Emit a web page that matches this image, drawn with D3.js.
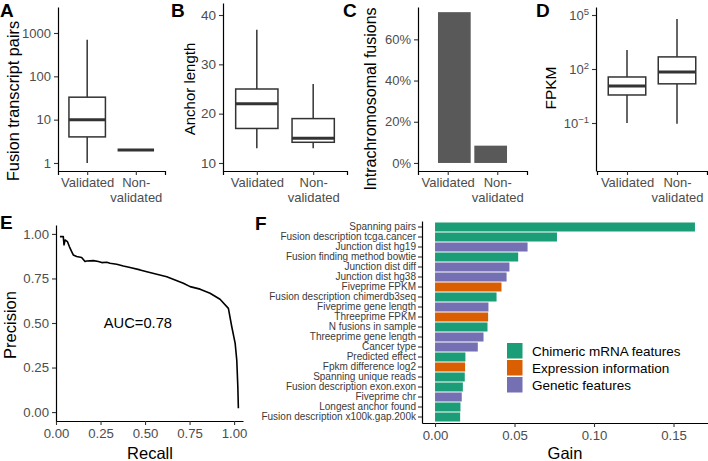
<!DOCTYPE html>
<html><head><meta charset="utf-8">
<script src="https://cdn.jsdelivr.net/npm/d3@7"></script>
<style>
body{margin:0;background:#fff}
svg{display:block;font-family:"Liberation Sans",Arial,Helvetica,sans-serif}
</style></head><body>
<svg id="c" width="708" height="461"></svg>
<script>
// ---------- data ----------
const groups = ["Validated", "Non-validated"];
// A: fusion transcript pairs (box stats)
const aLower = [1, 2], aQ1 = [4, 2], aMedian = [10, 2], aQ3 = [33, 2], aUpper = [700, 2];
const aTicks = [1, 10, 100, 1000];
// B: anchor length
const bLower = [13, 13], bQ1 = [17, 14.2], bMedian = [22, 15], bQ3 = [25, 19], bUpper = [37, 26];
const bTicks = [10, 20, 30, 40];
// C: intrachromosomal fusions (%)
const cPercent = [73.2, 8.4];
const cTicks = [0, 20, 40, 60];
// D: FPKM
const dLower = [0.1, 0.09], dQ1 = [3.6, 15], dMedian = [11.5, 68], dQ3 = [36, 470], dUpper = [1150, 60000];
const dTickExp = [-1, 2, 5];
// E: precision-recall curve
const recall = [0.022,0.041,0.043,0.045,0.051,0.064,0.075,0.088,0.097,0.116,0.144,0.163,0.172,0.21,0.238,0.257,0.285,0.303,0.341,0.378,0.416,0.472,0.51,0.566,0.622,0.715,0.753,0.809,0.865,0.921,0.968,0.987,1.006,1.015,1.021,1.024];
const precision = [0.985,0.985,0.96,0.938,0.966,0.957,0.929,0.901,0.882,0.873,0.868,0.845,0.848,0.85,0.845,0.839,0.841,0.835,0.83,0.82,0.811,0.798,0.788,0.774,0.76,0.723,0.704,0.69,0.667,0.633,0.582,0.479,0.386,0.292,0.142,0.021];
const eTicks = [0, 0.25, 0.5, 0.75, 1];
const aucLabel = "AUC=0.78";
// F: feature importance
const features = ["Spanning pairs","Fusion description tcga.cancer","Junction dist hg19","Fusion finding method bowtie","Junction dist diff","Junction dist hg38","Fiveprime FPKM","Fusion description chimerdb3seq","Fiveprime gene length","Threeprime FPKM","N fusions in sample","Threeprime gene length","Cancer type","Predicted effect","Fpkm difference log2","Spanning unique reads","Fusion description exon.exon","Fiveprime chr","Longest anchor found","Fusion description x100k.gap.200k"];
const gain = [0.1635,0.0767,0.0582,0.0523,0.0468,0.0450,0.0418,0.0387,0.0336,0.0334,0.0330,0.0305,0.0269,0.0191,0.0189,0.0187,0.0175,0.0168,0.0160,0.0158];
const featureType = [0,0,2,0,2,2,1,0,2,1,0,2,2,0,1,0,0,2,0,0];
const typeNames = ["Chimeric mRNA features", "Expression information", "Genetic features"];
const typeColors = ["#1b9e77", "#d95f02", "#7570b3"];
const fTicks = [0, 0.05, 0.1, 0.15];

// ---------- helpers ----------
const FONT = '"Liberation Sans",Arial,Helvetica,sans-serif';
const svg = d3.select("#c");

function styleAxis(g, size) {
  g.attr("font-family", null).attr("font-size", null);
  g.select(".domain").attr("stroke", "#000").attr("stroke-width", 1.2);
  g.selectAll(".tick line").attr("stroke", "#333").attr("stroke-width", 1.1);
  g.selectAll(".tick text").attr("fill", "#4d4d4d").style("font-size", size + "px").style("font-family", FONT);
}

function catAxis(xScale, y, size) {
  const g = svg.append("g").attr("transform", `translate(0,${y})`)
    .call(d3.axisBottom(xScale).tickSizeOuter(0).tickSize(4).tickPadding(3));
  styleAxis(g, size);
  g.selectAll(".tick text").each(function (d) {
    const t = d3.select(this).text("");
    const parts = d.includes("-") ? [d.split("-")[0] + "-", d.split("-")[1]] : [d];
    parts.forEach((p, i) => t.append("tspan").attr("x", 0).attr("dy", i === 0 ? "0.71em" : "1.15em").text(p));
  });
}

function vTitle(text, x, y, size) {
  svg.append("text").attr("transform", `translate(${x},${y}) rotate(-90)`)
    .attr("text-anchor", "middle").attr("dominant-baseline", "central")
    .style("font-size", size + "px").attr("fill", "#000").text(text);
}

function letter(t, x, y) {
  svg.append("text").attr("x", x).attr("y", y).style("font-size", "19px")
    .style("font-weight", "bold").attr("fill", "#000").text(t);
}

function boxes(x, y, lower, q1, med, q3, upper) {
  const bw = x.step() * 0.75;
  const g = svg.append("g");
  groups.forEach((c, i) => {
    const cx = x(c);
    g.append("line").attr("x1", cx).attr("x2", cx).attr("y1", y(upper[i])).attr("y2", y(q3[i]))
      .attr("stroke", "#333").attr("stroke-width", 1.5);
    g.append("line").attr("x1", cx).attr("x2", cx).attr("y1", y(q1[i])).attr("y2", y(lower[i]))
      .attr("stroke", "#333").attr("stroke-width", 1.5);
    g.append("rect").attr("x", cx - bw / 2).attr("width", bw)
      .attr("y", y(q3[i])).attr("height", Math.max(0, y(q1[i]) - y(q3[i])))
      .attr("fill", "#fff").attr("stroke", "#333").attr("stroke-width", 1.5);
    g.append("line").attr("x1", cx - bw / 2).attr("x2", cx + bw / 2).attr("y1", y(med[i])).attr("y2", y(med[i]))
      .attr("stroke", "#333").attr("stroke-width", 3);
  });
}

// ---------- Panel A ----------
{
  const x = d3.scalePoint().domain(groups).range([58, 165]).padding(0.6);
  const y = d3.scaleLog().domain([Math.pow(10, -0.185), Math.pow(10, 3.6)]).range([171, 7]);
  boxes(x, y, aLower, aQ1, aMedian, aQ3, aUpper);
  const gy = svg.append("g").attr("transform", "translate(58,0)")
    .call(d3.axisLeft(y).tickValues(aTicks).tickFormat(d3.format("d")).tickSize(4).tickPadding(3).tickSizeOuter(0));
  styleAxis(gy, 13);
  catAxis(x, 171, 13);
  vTitle("Fusion transcript pairs", 13, 101, 16.3);
  letter("A", 0, 17);
}
// ---------- Panel B ----------
{
  const x = d3.scalePoint().domain(groups).range([223, 347]).padding(0.6);
  const y = d3.scaleLinear().domain([10 - 8 / 4.93, 40 + 12 / 4.93]).range([171, 3]);
  boxes(x, y, bLower, bQ1, bMedian, bQ3, bUpper);
  const gy = svg.append("g").attr("transform", "translate(223,0)")
    .call(d3.axisLeft(y).tickValues(bTicks).tickSize(4).tickPadding(3).tickSizeOuter(0));
  styleAxis(gy, 13.5);
  catAxis(x, 171, 13);
  vTitle("Anchor length", 189, 89, 15);
  letter("B", 171, 17);
}
// ---------- Panel C ----------
{
  const x = d3.scaleBand().domain(groups).range([418, 527]).paddingInner(0.1).paddingOuter(0.55);
  const y = d3.scaleLinear().domain([-3.9, 75.7]).range([171, 7]);
  svg.append("g").selectAll("rect").data(groups).join("rect")
    .attr("x", d => x(d)).attr("width", x.bandwidth())
    .attr("y", (d, i) => y(cPercent[i])).attr("height", (d, i) => y(0) - y(cPercent[i]))
    .attr("fill", "#595959");
  const gy = svg.append("g").attr("transform", "translate(418,0)")
    .call(d3.axisLeft(y).tickValues(cTicks).tickFormat(d => d + "%").tickSize(4).tickPadding(3).tickSizeOuter(0));
  styleAxis(gy, 13);
  const xp = d3.scalePoint().domain(groups).range([418, 527]).padding(0.6);
  catAxis(xp, 171, 13);
  vTitle("Intrachromosomal fusions", 370, 99, 16);
  letter("C", 343, 17);
}
// ---------- Panel D ----------
{
  const x = d3.scalePoint().domain(groups).range([597, 707]).padding(0.6);
  const y = d3.scaleLog().domain([Math.pow(10, -1 - 48 / 18), Math.pow(10, 5 + 8 / 18)]).range([171, 7]);
  boxes(x, y, dLower, dQ1, dMedian, dQ3, dUpper);
  const gy = svg.append("g").attr("transform", "translate(596,0)")
    .call(d3.axisLeft(y).tickValues(dTickExp.map(e => Math.pow(10, e))).tickSize(4).tickPadding(3).tickSizeOuter(0));
  styleAxis(gy, 13);
  gy.selectAll(".tick text").each(function (d) {
    const e = Math.round(Math.log10(d));
    const t = d3.select(this).text("");
    t.append("tspan").text("10");
    t.append("tspan").attr("dy", "-0.5em").style("font-size", "9.5px").text(e < 0 ? "\u2212" + (-e) : e);
  });
  catAxis(x, 171, 13);
  vTitle("FPKM", 550, 88, 15.5);
  letter("D", 536, 17);
}
// ---------- Panel E ----------
{
  const x = d3.scaleLinear().domain([0, 1.05]).range([56, 243]);
  const y = d3.scaleLinear().domain([-0.05, 1.05]).range([421, 225]);
  const line = d3.line().x((d, i) => x(recall[i])).y((d, i) => y(precision[i]));
  svg.append("path").datum(recall).attr("d", line).attr("fill", "none")
    .attr("stroke", "#000").attr("stroke-width", 1.6).attr("stroke-linejoin", "round");
  const gx = svg.append("g").attr("transform", "translate(0,421)")
    .call(d3.axisBottom(x).tickValues(eTicks).tickFormat(d3.format(".2f")).tickSize(4).tickPadding(4).tickSizeOuter(0));
  styleAxis(gx, 13.2);
  const gy = svg.append("g").attr("transform", "translate(56,0)")
    .call(d3.axisLeft(y).tickValues(eTicks).tickFormat(d3.format(".2f")).tickSize(4).tickPadding(3).tickSizeOuter(0));
  styleAxis(gy, 13.2);
  svg.append("text").attr("x", x(0.46)).attr("y", y(0.5)).attr("text-anchor", "middle")
    .attr("dominant-baseline", "central").style("font-size", "14.7px").attr("fill", "#000").text(aucLabel);
  svg.append("text").attr("x", 150).attr("y", 459).attr("text-anchor", "middle")
    .style("font-size", "16.5px").attr("fill", "#000").text("Recall");
  vTitle("Precision", 10, 325, 16.5);
  letter("E", 0, 229);
}
// ---------- Panel F ----------
{
  const x = d3.scaleLinear().domain([-0.0082, 0.1717]).range([422, 708]);
  const y = d3.scaleBand().domain(features).range([221, 423]).paddingInner(0.1).paddingOuter(0.15);
  svg.append("g").selectAll("rect").data(features).join("rect")
    .attr("x", x(0)).attr("y", d => y(d)).attr("height", y.bandwidth())
    .attr("width", (d, i) => x(gain[i]) - x(0))
    .attr("fill", (d, i) => typeColors[featureType[i]]);
  const gx = svg.append("g").attr("transform", "translate(0,423)")
    .call(d3.axisBottom(x).tickValues(fTicks).tickFormat(d3.format(".2f")).tickSize(4).tickPadding(4).tickSizeOuter(0));
  styleAxis(gx, 13.2);
  const gy = svg.append("g").attr("transform", "translate(422,0)")
    .call(d3.axisLeft(y).tickSize(4).tickPadding(2).tickSizeOuter(0));
  styleAxis(gy, 10);
  gy.selectAll(".tick text").attr("fill", "#3a3a3a");
  svg.append("text").attr("x", 565).attr("y", 459).attr("text-anchor", "middle")
    .style("font-size", "16.5px").attr("fill", "#000").text("Gain");
  const lg = svg.append("g");
  typeNames.forEach((n, i) => {
    const yy = 343 + i * 17;
    lg.append("rect").attr("x", 507).attr("y", yy).attr("width", 15.5).attr("height", 15.5).attr("fill", typeColors[i]);
    lg.append("text").attr("x", 532).attr("y", yy + 8).attr("dominant-baseline", "central")
      .style("font-size", "13.5px").attr("fill", "#000").text(n);
  });
  letter("F", 255, 230);
}
</script>
</body></html>
